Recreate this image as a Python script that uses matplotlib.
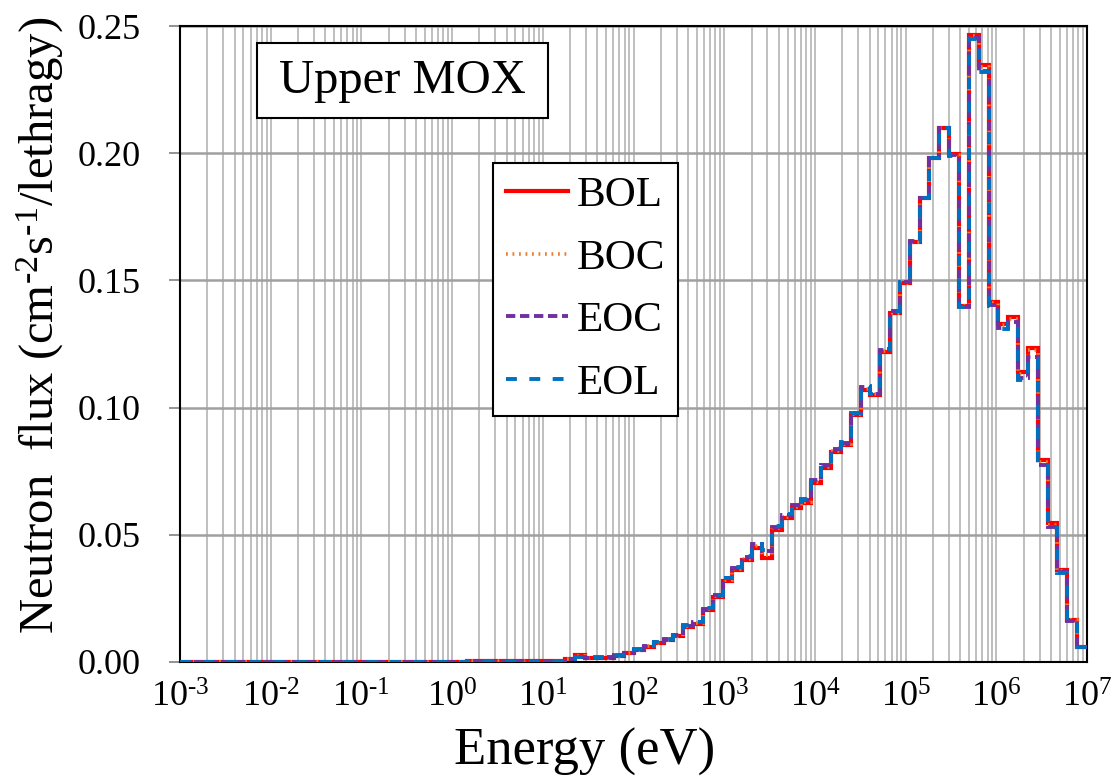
import math
import matplotlib
matplotlib.use("Agg")
import matplotlib.pyplot as plt
from matplotlib.patches import Rectangle
from matplotlib.ticker import FixedLocator, FuncFormatter, LogLocator, NullFormatter

# ---------------- data (group edges, descending energy, eV) ----------------
edges_desc = [1.0000e7, 7.7880e6, 6.0653e6, 4.7237e6, 3.6788e6, 2.8650e6, 2.2313e6,
              1.7377e6, 1.3534e6, 1.0540e6, 8.2085e5, 6.3928e5, 4.9787e5, 3.8774e5,
              3.0197e5, 2.3518e5, 1.8316e5, 1.4264e5, 1.1109e5, 8.6517e4, 6.7379e4,
              5.2475e4, 4.0868e4, 3.1828e4, 2.4788e4, 1.9305e4, 1.5034e4, 1.1709e4,
              9.1188e3, 7.1017e3, 5.5308e3, 4.3074e3, 3.3546e3, 2.6126e3, 2.0347e3,
              1.5846e3, 1.2341e3, 9.6112e2, 7.4852e2, 5.8295e2, 4.5400e2, 3.5357e2,
              2.7536e2, 2.1445e2, 1.6702e2, 1.3007e2, 1.0130e2, 7.8893e1, 6.1442e1,
              4.7851e1, 3.7267e1, 2.9023e1, 2.2603e1, 1.7603e1, 1.3710e1, 1.0677e1,
              8.3153e0, 6.4760e0, 5.0435e0, 3.9279e0, 3.0590e0, 2.3824e0, 1.8554e0,
              1.4450e0, 1.0e-3]

bol = [0.0060, 0.0165, 0.0360, 0.0546, 0.0795, 0.1235, 0.1140, 0.1357, 0.1330, 0.1415,
       0.2347, 0.2465, 0.1400, 0.1995, 0.2100, 0.1980, 0.1825, 0.1650, 0.1490, 0.1370,
       0.1220, 0.1050, 0.1070, 0.0970, 0.0853, 0.0826, 0.0763, 0.0704, 0.0625, 0.0605,
       0.0566, 0.0520, 0.0410, 0.0450, 0.0400, 0.0360, 0.0320, 0.0255, 0.0204, 0.0150,
       0.0138, 0.0102, 0.0087, 0.0074, 0.0060, 0.0047, 0.0035, 0.0024, 0.0016, 0.0016,
       0.0016, 0.0027, 0.0012, 0.0005, 0.0005, 0.0005, 0.0005, 0.0005, 0.0005, 0.0005,
       0.0005, 0.0005, 0.0005, 0.0]

boc = [0.0060, 0.0164, 0.0357, 0.0540, 0.0788, 0.1225, 0.1132, 0.1350, 0.1325, 0.1412,
       0.2340, 0.2462, 0.1400, 0.1994, 0.2100, 0.1980, 0.1825, 0.1651, 0.1491, 0.1373,
       0.1223, 0.1052, 0.1075, 0.0973, 0.0857, 0.0830, 0.0768, 0.0709, 0.0630, 0.0610,
       0.0570, 0.0525, 0.0420, 0.0455, 0.0405, 0.0364, 0.0323, 0.0258, 0.0207, 0.0152,
       0.0140, 0.0104, 0.0088, 0.0075, 0.0061, 0.0048, 0.0036, 0.0025, 0.0017, 0.0016,
       0.0016, 0.0025, 0.0012, 0.0005, 0.0005, 0.0005, 0.0005, 0.0005, 0.0005, 0.0005,
       0.0005, 0.0005, 0.0005, 0.0]

eoc = [0.0059, 0.0161, 0.0352, 0.0530, 0.0775, 0.1200, 0.1115, 0.1335, 0.1313, 0.1403,
       0.2325, 0.2452, 0.1396, 0.1991, 0.2100, 0.1980, 0.1825, 0.1654, 0.1494, 0.1378,
       0.1228, 0.1054, 0.1082, 0.0978, 0.0862, 0.0837, 0.0775, 0.0716, 0.0637, 0.0617,
       0.0577, 0.0532, 0.0435, 0.0462, 0.0412, 0.0370, 0.0330, 0.0263, 0.0210, 0.0156,
       0.0143, 0.0107, 0.0091, 0.0077, 0.0063, 0.0049, 0.0037, 0.0026, 0.0018, 0.0017,
       0.0017, 0.0021, 0.0012, 0.0005, 0.0005, 0.0005, 0.0005, 0.0005, 0.0005, 0.0005,
       0.0005, 0.0005, 0.0005, 0.0]

eol = [0.0058, 0.0160, 0.0350, 0.0525, 0.0770, 0.1190, 0.1110, 0.1330, 0.1310, 0.1400,
       0.2320, 0.2450, 0.1395, 0.1990, 0.2100, 0.1980, 0.1825, 0.1655, 0.1495, 0.1380,
       0.1230, 0.1055, 0.1085, 0.0980, 0.0865, 0.0840, 0.0778, 0.0720, 0.0640, 0.0620,
       0.0580, 0.0535, 0.0440, 0.0465, 0.0415, 0.0372, 0.0332, 0.0265, 0.0212, 0.0158,
       0.0145, 0.0108, 0.0092, 0.0078, 0.0064, 0.0050, 0.0038, 0.0026, 0.0018, 0.0018,
       0.0017, 0.0020, 0.0012, 0.0005, 0.0005, 0.0005, 0.0005, 0.0005, 0.0005, 0.0005,
       0.0005, 0.0005, 0.0005, 0.0]

series_names = ["BOL", "BOC", "EOC", "EOL"]
x_exponents = [-3, -2, -1, 0, 1, 2, 3, 4, 5, 6, 7]
y_ticks = [0.00, 0.05, 0.10, 0.15, 0.20, 0.25]
panel_title = "Upper MOX"

# ---------------- style ----------------
plt.rcParams['font.family'] = ['Liberation Serif', 'DejaVu Serif']
plt.rcParams['mathtext.fontset'] = 'custom'
plt.rcParams['mathtext.rm'] = 'Liberation Serif'
plt.rcParams['mathtext.it'] = 'Liberation Serif:italic'
plt.rcParams['mathtext.bf'] = 'Liberation Serif:bold'

fig = plt.figure(figsize=(11.18, 7.81), dpi=100)
ax = fig.add_axes([180 / 1118, 1 - 662 / 781, 907 / 1118, 636 / 781])

styles = [
    dict(color='#FF0000', linestyle='-', lw=3.0),
    dict(color='#ED7D31', linestyle=(0, (0.5, 1.3)), lw=2.6),
    dict(color='#7030A0', linestyle=(0, (2.4, 1.2)), lw=2.8),
    dict(color='#0070C0', linestyle=(0, (2.8, 3.2)), lw=2.8),
]

edges = edges_desc[::-1]
for name, vals, st in zip(series_names, [bol, boc, eoc, eol], styles):
    ax.stairs(vals[::-1], edges, baseline=None, label=name, zorder=3, **st)

ax.set_xscale('log')
ax.set_xlim(1e-3, 1e7)
ax.set_ylim(0, 0.25)

ax.xaxis.set_major_locator(FixedLocator([10.0 ** e for e in x_exponents]))
ax.xaxis.set_major_formatter(FuncFormatter(lambda v, p: "10$^{\\text{%d}}$" % round(math.log10(v))))
ax.xaxis.set_minor_locator(LogLocator(base=10, subs=range(2, 10), numticks=100))
ax.xaxis.set_minor_formatter(NullFormatter())
ax.set_yticks(y_ticks)
ax.yaxis.set_major_formatter(FuncFormatter(lambda v, p: "%.2f" % v))

ax.grid(True, which='major', axis='x', color='#BFBFBF', lw=1.4, zorder=0)
ax.grid(True, which='minor', axis='x', color='#BFBFBF', lw=1.4, zorder=0)
ax.grid(True, which='major', axis='y', color='#A0A0A0', lw=1.8, zorder=0)
ax.set_axisbelow(True)

ax.tick_params(axis='y', which='major', direction='out', length=8, width=1.2,
               color='#808080', labelsize=26, pad=20)
ax.tick_params(axis='x', which='major', direction='out', length=0, labelsize=26, pad=14)
ax.tick_params(axis='x', which='minor', length=0)
for s in ax.spines.values():
    s.set_color('black')
    s.set_linewidth(1.5)

ax.set_xlabel("Energy (eV)", fontsize=38)
ax.xaxis.set_label_coords((585 - 180) / 907, (662 - 752) / 636, transform=ax.transAxes)
ax.xaxis.label.set_va('center')
ax.set_ylabel("Neutron  flux (cm$^{\\text{-2}}$s$^{\\text{-1}}$/lethragy)", fontsize=35)
ax.yaxis.set_label_coords((40 - 180) / 907, (662 - 325) / 636, transform=ax.transAxes)
ax.yaxis.label.set_va('center')

# title box
ax.add_patch(Rectangle((0.0849, 0.8553), 0.3208, 0.1179, transform=ax.transAxes,
                       facecolor='white', edgecolor='black', lw=1.5, zorder=4))
ax.text(0.0849 + 0.3208 / 2, 0.8553 + 0.1179 / 2, panel_title, transform=ax.transAxes,
        ha='center', va='center', fontsize=35, zorder=5)

leg = ax.legend(loc='upper left', bbox_to_anchor=(0.345, 0.785), borderaxespad=0,
                fontsize=31, handlelength=1.45, handletextpad=0.2, labelspacing=0.55,
                borderpad=0.3, fancybox=False, framealpha=1, edgecolor='black')
leg.get_frame().set_linewidth(1.5)
leg.set_zorder(6)

fig.savefig("out.png", dpi=100)
